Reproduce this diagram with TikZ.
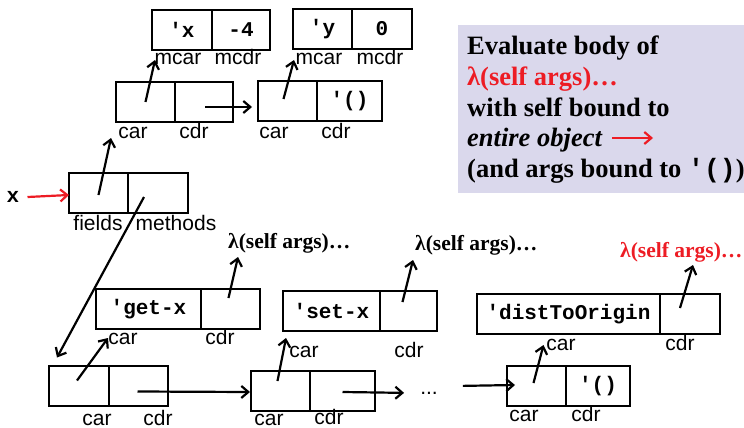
\documentclass[tikz,border=0pt]{standalone}
\usepackage{fontspec}
\setmainfont{Liberation Serif}
\setsansfont{Liberation Sans}
\setmonofont{Liberation Mono}
\usetikzlibrary{arrows.meta}
\definecolor{lamred}{RGB}{237,28,36}
\definecolor{notebg}{RGB}{218,216,236}
\tikzset{
	cell/.style={
		draw, rectangle, inner sep=0pt, outer sep=0pt,
		minimum width=#1, minimum height=40pt,
		line width=2pt,
		font=\ttfamily\bfseries\fontsize{21}{21}\selectfont
	},
	tag/.style={inner sep=0pt, anchor=base, font=\sffamily\fontsize{21}{21}\selectfont},
	lam/.style={inner sep=0pt, anchor=west, font=\bfseries\fontsize{21.5}{22}\selectfont},
	notetext/.style={inner sep=0pt, anchor=base west, font=\bfseries\fontsize{26.5}{30}\selectfont},
	ptr/.style={-{Straight Barb[length=7pt,width=12pt]}, line width=2.2pt}
}

\begin{document}
\begin{tikzpicture}[x=1pt, y=-1pt]
\useasboundingbox (0,0) rectangle (744,428);
\fill[notebg] (458,25) rectangle (744,193);
\node[notetext] (note1) at (467,55) {Evaluate body of};
\node[notetext, text=lamred] (note2) at (467,85.5) {λ(self args)…};
\node[notetext] (note3) at (467,116) {with self bound to};
\node[notetext] (note4) at (467,146.5) {\textit{entire object}};
\node[notetext] (note5) at (467,177) {(and args bound to \texttt{'()})};
\coordinate (na0) at (612,138);
\coordinate (na1) at (653,138);
\draw[ptr, lamred] (na0) -- (na1);
\node[cell=60pt] (mx1) at (182,30) {'x};
\node[cell=58pt] (mx2) at (241,30) {-4};
\node[cell=59pt] (my1) at (322.5,29) {'y};
\node[cell=60pt] (my2) at (382,29) {0};
\node[cell=59pt] (fa1) at (145.5,102) {};
\node[cell=58pt] (fa2) at (204,102) {};
\node[cell=59pt] (fb1) at (287.5,101) {};
\node[cell=65pt] (fb2) at (349.5,101) {'()};
\node[cell=59pt] (obj1) at (98.5,193) {};
\node[cell=60pt] (obj2) at (158,193) {};
\node[cell=105pt] (ga1) at (148.5,309) {'get-x};
\node[cell=59pt] (ga2) at (230.5,309) {};
\node[cell=97pt] (sa1) at (331.5,311) {'set-x};
\node[cell=57pt] (sa2) at (408.5,311) {};
\node[cell=183pt] (da1) at (568.5,314) {'distToOrigin};
\node[cell=60pt] (da2) at (690,314) {};
\node[cell=60pt] (ma1) at (79,385.5) {};
\node[cell=59pt] (ma2) at (138.5,385.5) {};
\node[cell=59pt] (mb1) at (280.5,391) {};
\node[cell=65pt] (mb2) at (342.5,391) {};
\node[cell=59pt] (mc1) at (536.5,386) {};
\node[cell=64pt] (mc2) at (598,386) {'()};
\node[tag] (mx1t) at (178,65) {mcar};
\node[tag] (mx2t) at (238,65) {mcdr};
\node[tag] (my1t) at (319,65) {mcar};
\node[tag] (my2t) at (380,65) {mcdr};
\node[tag] (fa1t) at (133,138) {car};
\node[tag] (fa2t) at (194,138) {cdr};
\node[tag] (fb1t) at (274,138) {car};
\node[tag] (fb2t) at (336,138) {cdr};
\node[tag] (obj1t) at (98,230) {fields};
\node[tag] (obj2t) at (176,230) {methods};
\node[tag] (ga1t) at (123,344) {car};
\node[tag] (ga2t) at (220,344) {cdr};
\node[tag] (sa1t) at (304,357) {car};
\node[tag] (sa2t) at (409,357) {cdr};
\node[tag] (da1t) at (561,350) {car};
\node[tag] (da2t) at (680,350) {cdr};
\node[tag] (ma1t) at (97,425) {car};
\node[tag] (ma2t) at (158,425) {cdr};
\node[tag] (mb1t) at (269,425) {car};
\node[tag] (mb2t) at (329,424) {cdr};
\node[tag] (mc1t) at (524,421) {car};
\node[tag] (mc2t) at (586,421) {cdr};
\node[tag] (dots) at (429,394) {...};
\node[inner sep=0pt, font=\ttfamily\bfseries\fontsize{21}{21}\selectfont] (xv) at (13,197) {x};
\node[lam] (lam1) at (228,243) {λ(self args)…};
\node[lam] (lam2) at (415,245) {λ(self args)…};
\node[lam, text=lamred] (lam3) at (620,252) {λ(self args)…};
\draw[ptr, lamred] ([xshift=8pt]xv.east) -- ([shift={(0,2)}]obj1.west);
\draw[ptr] ([shift={(0,2)}]obj1.center) -- ([shift={(-5,16)}]fa1.south west);
\draw[ptr] ([shift={(-14,4)}]obj2.center) -- ([shift={(8,-8)}]ma1.north west);
\draw[ptr] (fa1.center) -- ([shift={(3,10)}]mx1.south west);
\draw[ptr] ([shift={(1,5)}]fa2.center) -- ([shift={(-6,6)}]fb1.west);
\draw[ptr] ([shift={(-4,-2)}]fb1.center) -- ([shift={(1,11)}]my1.south west);
\draw[ptr] ([shift={(-2,-5)}]ma1.center) -- ([shift={(12,9)}]ga1.south west);
\draw[ptr] ([shift={(-1,6)}]ma2.center) -- ([shift={(-1,1)}]mb1.west);
\draw[ptr] ([shift={(-3,-10)}]mb1.center) -- ([shift={(3,7)}]sa1.south west);
\draw[ptr] ([shift={(0,1)}]mb2.center) -- ([xshift=-16pt]dots.west);
\draw[ptr] ([shift={(25,-7)}]dots.east) -- ([shift={(8,-1)}]mc1.west);
\draw[ptr] ([shift={(-3,-3)}]mc1.center) -- ([shift={(-25,11)}]da1.south);
\draw[ptr] ([shift={(-2,-11)}]ga2.center) -- ([shift={(10,14)}]lam1.west);
\draw[ptr] ([shift={(-6,-9)}]sa2.center) -- ([shift={(-2,15)}]lam2.west);
\draw[ptr] ([shift={(-10,-6)}]da2.center) -- ([shift={(73,13)}]lam3.west);
\end{tikzpicture}
\end{document}
